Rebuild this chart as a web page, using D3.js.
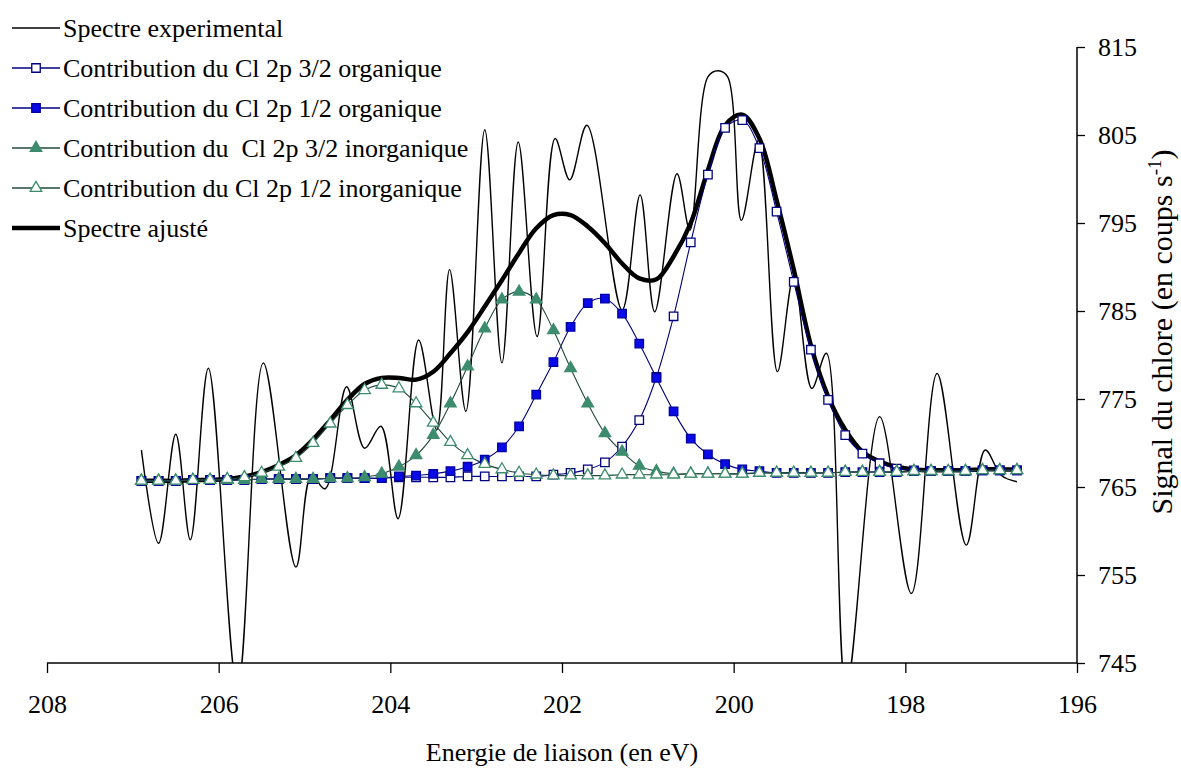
<!DOCTYPE html>
<html>
<head>
<meta charset="utf-8">
<script src="https://cdn.jsdelivr.net/npm/d3@7"></script>
<style>
html,body{margin:0;padding:0;background:#fff;}
svg{display:block;}
text{font-family:"Liberation Serif","Times New Roman",serif;fill:#000;}
</style>
</head>
<body>
<svg id="chart" width="1181" height="769"></svg>
<script>
// ---------- DATA ----------
const xTicks = [208, 206, 204, 202, 200, 198, 196];
const yTicks = [745, 755, 765, 775, 785, 795, 805, 815];

// experimental spectrum (energy, signal) read at its turning points
const expEnergy = [206.90, 206.70, 206.50, 206.33, 206.12, 205.78, 205.48, 205.10, 204.92, 204.76,
  204.51, 204.30, 204.11, 203.91, 203.67, 203.46, 203.31, 203.12, 202.90, 202.70,
  202.51, 202.29, 202.08, 201.91, 201.71, 201.30, 201.09, 200.92, 200.66, 200.51,
  200.30, 200.18, 200.07, 199.91, 199.71, 199.49, 199.30, 199.09, 198.92, 198.69,
  198.30, 197.93, 197.63, 197.29, 197.07, 196.88, 196.70];
const expSignal = [769.2, 758.6, 771.0, 759.0, 778.5, 742.0, 779.1, 755.9, 766.3, 764.8,
  776.4, 769.4, 771.9, 761.4, 781.7, 771.5, 789.7, 773.6, 805.6, 779.1,
  804.2, 782.1, 804.6, 799.9, 806.1, 785.1, 798.2, 784.9, 800.6, 794.2,
  811.6, 812.3, 811.6, 795.3, 804.4, 778.1, 788.9, 776.2, 780.2, 742.0,
  773.0, 752.9, 777.9, 758.4, 769.2, 766.3, 765.6];

// energies of the fitted components
const fitEnergy = [206.9, 206.7, 206.5, 206.3, 206.1, 205.9, 205.7, 205.5, 205.3, 205.1,
  204.9, 204.7, 204.5, 204.3, 204.1, 203.9, 203.7, 203.5, 203.3, 203.1,
  202.9, 202.7, 202.5, 202.3, 202.1, 201.9, 201.7, 201.5, 201.3, 201.1,
  200.9, 200.7, 200.5, 200.3, 200.1, 199.9, 199.7, 199.5, 199.3, 199.1,
  198.9, 198.7, 198.5, 198.3, 198.1, 197.9, 197.7, 197.5, 197.3, 197.1,
  196.9, 196.7];

const org32 = [765.7, 765.7, 765.7, 765.8, 765.8, 765.8, 765.8, 765.9, 765.9, 765.9,
  765.9, 766.0, 766.0, 766.0, 766.0, 766.1, 766.1, 766.1, 766.1, 766.2,
  766.2, 766.2, 766.2, 766.2, 766.4, 766.6, 767.0, 767.8, 769.6, 772.6,
  777.5, 784.4, 792.8, 800.5, 805.8, 806.7, 803.5, 796.3, 788.3, 780.6,
  774.9, 770.9, 768.8, 767.7, 767.1, 766.9, 766.8, 766.8, 766.8, 766.9,
  766.9, 766.9];

const org12 = [765.7, 765.7, 765.7, 765.8, 765.8, 765.8, 765.8, 765.9, 765.9, 765.9,
  765.9, 766.0, 766.0, 766.0, 766.0, 766.2, 766.3, 766.5, 766.8, 767.3,
  768.1, 769.5, 771.9, 775.5, 779.2, 783.2, 785.9, 786.4, 784.7, 781.3,
  777.4, 773.6, 770.5, 768.7, 767.6, 767.0, 766.8, 766.6, 766.6, 766.6,
  766.6, 766.7, 766.7, 766.7, 766.7, 766.8, 766.8, 766.8, 766.8, 766.9,
  766.9, 766.9];

const inorg32 = [765.7, 765.7, 765.7, 765.8, 765.8, 765.8, 765.8, 765.9, 765.9, 765.9,
  765.9, 766.0, 766.0, 766.1, 766.5, 767.3, 768.6, 770.9, 774.5, 778.7,
  783.0, 786.3, 787.2, 786.3, 782.8, 778.5, 774.5, 771.1, 769.0, 767.4,
  766.8, 766.5, 766.5, 766.5, 766.5, 766.5, 766.6, 766.6, 766.6, 766.6,
  766.6, 766.7, 766.7, 766.7, 766.7, 766.8, 766.8, 766.8, 766.8, 766.9,
  766.9, 766.9];

const inorg12 = [765.7, 765.7, 765.7, 765.8, 765.8, 765.9, 766.1, 766.6, 767.3, 768.3,
  770.0, 772.2, 774.3, 776.0, 776.6, 776.2, 774.5, 772.3, 770.1, 768.6,
  767.6, 767.0, 766.6, 766.4, 766.3, 766.3, 766.3, 766.3, 766.4, 766.4,
  766.4, 766.4, 766.5, 766.5, 766.5, 766.5, 766.6, 766.6, 766.6, 766.6,
  766.6, 766.7, 766.7, 766.7, 766.7, 766.8, 766.8, 766.8, 766.8, 766.9,
  766.9, 766.9];

const fitTotal = [765.7, 765.7, 765.7, 765.8, 765.8, 765.9, 766.2, 766.7, 767.5, 768.6,
  770.4, 772.6, 774.9, 776.7, 777.4, 777.4, 777.2, 778.1, 780.2, 782.6,
  785.5, 788.5, 791.6, 794.4, 795.9, 795.9, 794.6, 792.7, 790.4, 788.7,
  788.6, 791.2, 795.0, 801.0, 806.1, 807.3, 804.6, 797.6, 789.7, 781.1,
  775.3, 771.5, 769.0, 767.9, 767.3, 767.0, 766.9, 766.9, 766.9, 767.0,
  767.0, 767.0];

const legendLabels = [
  "Spectre experimental",
  "Contribution du Cl 2p 3/2 organique",
  "Contribution du Cl 2p 1/2 organique",
  "Contribution du \u00A0Cl 2p 3/2 inorganique",
  "Contribution du Cl 2p 1/2 inorganique",
  "Spectre ajusté"
];
const xTitle = "Energie de liaison (en eV)";
const yTitleMain = "Signal du chlore (en coups s";
const yTitleSup = "-1";

// ---------- LAYOUT ----------
const svg = d3.select("#chart");
const pLeft = 47, pRight = 1077, pTop = 47, pBottom = 663;
const x = d3.scaleLinear().domain([208, 196]).range([pLeft, pRight]);
const y = d3.scaleLinear().domain([745, 815]).range([pBottom, pTop]);

svg.append("defs").append("clipPath").attr("id", "plotclip")
  .append("rect").attr("x", pLeft).attr("y", pTop).attr("width", pRight - pLeft).attr("height", pBottom - pTop);

const NAVY = "#000080", BLUE = "#0a0ae6", GREEN = "#3d8c6e";
const FS = 26;

// ---------- AXES ----------
const xAxis = d3.axisBottom(x).tickValues(xTicks).tickSize(10).tickPadding(22).tickFormat(d3.format("d"));
const gx = svg.append("g").attr("transform", `translate(0,${pBottom})`).call(xAxis);
gx.select(".domain").attr("stroke", "#000").attr("stroke-width", 1.5).attr("d", `M${pLeft},0H${pRight}`);
gx.selectAll(".tick line").attr("stroke", "#000").attr("stroke-width", 1.3);
gx.selectAll(".tick text").attr("font-size", FS).attr("font-family", "Liberation Serif").attr("fill", "#000");

const yAxis = d3.axisRight(y).tickValues(yTicks).tickSize(8).tickPadding(13).tickFormat(d3.format("d"));
const gy = svg.append("g").attr("transform", `translate(${pRight},0)`).call(yAxis);
gy.select(".domain").attr("stroke", "#000").attr("stroke-width", 1.5).attr("d", `M0,${pTop}V${pBottom}`);
gy.selectAll(".tick line").attr("stroke", "#000").attr("stroke-width", 1.3);
gy.selectAll(".tick text").attr("font-size", FS).attr("font-family", "Liberation Serif").attr("fill", "#000");

svg.append("text").attr("x", (pLeft + pRight) / 2).attr("y", 761)
  .attr("text-anchor", "middle").attr("font-size", FS).text(xTitle);

const yt = svg.append("text").attr("transform", "translate(1172,332) rotate(-90)")
  .attr("text-anchor", "middle").attr("font-size", 30);
yt.append("tspan").text(yTitleMain);
yt.append("tspan").attr("font-size", 19).attr("dy", -11).text(yTitleSup);
yt.append("tspan").attr("dy", 11).text(")");

// ---------- SERIES ----------
const plot = svg.append("g").attr("clip-path", "url(#plotclip)");

const expPts = expEnergy.map((e, i) => [e, expSignal[i]]);
const smooth = d3.line().x(d => x(d[0])).y(d => y(d[1])).curve(d3.curveCatmullRom.alpha(0.5));
plot.append("path").attr("d", smooth(expPts)).attr("fill", "none")
  .attr("stroke", "#000").attr("stroke-width", 1.4);

const fitPts = fitEnergy.map((e, i) => [e, fitTotal[i]]);
plot.append("path").attr("d", smooth(fitPts)).attr("fill", "none")
  .attr("stroke", "#000").attr("stroke-width", 4.5);

const sq = d3.symbol().type(d3.symbolSquare).size(72);
const tri = d3.symbol().type(d3.symbolTriangle).size(58);

const comps = [
  {vals: org32, lineColor: NAVY, sym: sq, fill: "#fff", stroke: NAVY},
  {vals: org12, lineColor: NAVY, sym: sq, fill: BLUE, stroke: "#0000a0"},
  {vals: inorg32, lineColor: "#234a3c", sym: tri, fill: GREEN, stroke: GREEN},
  {vals: inorg12, lineColor: "#234a3c", sym: tri, fill: "#fff", stroke: GREEN}
];
comps.forEach(c => {
  const pts = fitEnergy.map((e, i) => [e, c.vals[i]]);
  plot.append("path").attr("d", smooth(pts)).attr("fill", "none")
    .attr("stroke", c.lineColor).attr("stroke-width", 1.1);
});
comps.forEach(c => {
  const pts = fitEnergy.map((e, i) => [e, c.vals[i]]);
  plot.append("g").selectAll("path").data(pts).join("path")
    .attr("transform", d => `translate(${x(d[0])},${y(d[1])})`)
    .attr("d", c.sym()).attr("fill", c.fill).attr("stroke", c.stroke).attr("stroke-width", 1.3);
});

// ---------- LEGEND ----------
const lg = svg.append("g");
const rowY = i => 28 + i * 40;
legendLabels.forEach((lab, i) => {
  const yy = rowY(i);
  const isFit = i === 5;
  lg.append("line").attr("x1", 12).attr("x2", 60).attr("y1", yy).attr("y2", yy)
    .attr("stroke", i === 0 || isFit ? "#000" : comps[i - 1].lineColor)
    .attr("stroke-width", isFit ? 4.5 : 1.3);
  if (i >= 1 && i <= 4) {
    const c = comps[i - 1];
    lg.append("path").attr("transform", `translate(36,${yy})`).attr("d", c.sym())
      .attr("fill", c.fill).attr("stroke", c.stroke).attr("stroke-width", 1.3);
  }
  lg.append("text").attr("x", 63).attr("y", yy).attr("dy", "0.33em")
    .attr("font-size", FS).text(lab);
});
</script>
</body>
</html>
